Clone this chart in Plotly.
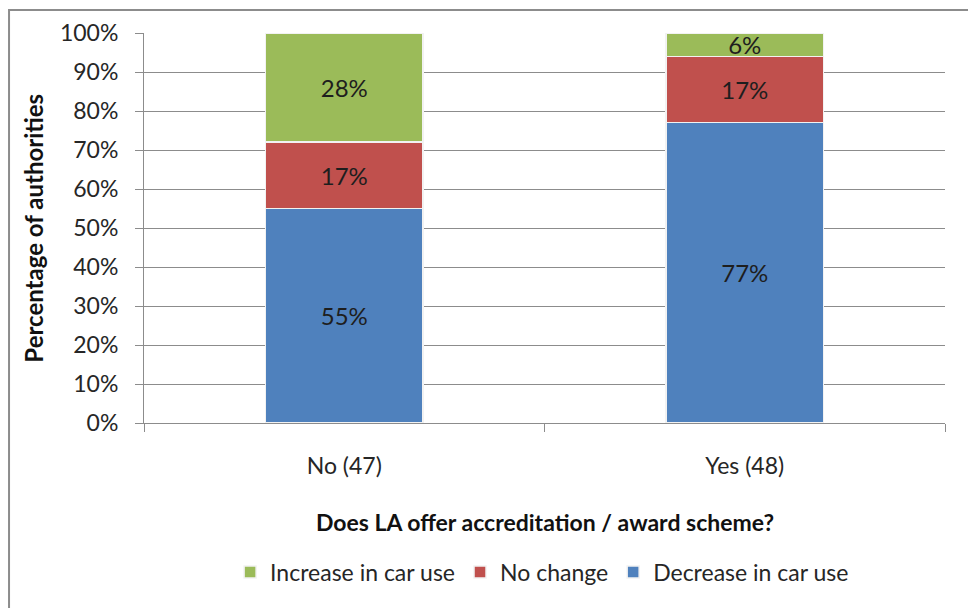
import plotly.graph_objects as go

# Survey responses by whether the local authority runs an accreditation / award scheme
categories = ["No (47)", "Yes (48)"]
decrease = [55, 77]
no_change = [17, 17]
increase = [28, 6]
y_ticks = [0, 10, 20, 30, 40, 50, 60, 70, 80, 90, 100]
y_tick_labels = [f"{v}%" for v in y_ticks]

FONT = "Lato"
TXT = "#262626"

series = [
    ("Decrease in car use", decrease, "#4F81BD"),
    ("No change", no_change, "#C0504D"),
    ("Increase in car use", increase, "#9BBB59"),
]

fig = go.Figure()
for name, vals, color in series:
    fig.add_trace(go.Bar(
        x=categories, y=vals, name=name,
        marker=dict(color=color, line=dict(color="#f2f2f2", width=1.5)),
        text=[f"{v}%" for v in vals],
        textposition="inside", insidetextanchor="middle",
        constraintext="none",
        textfont=dict(family=FONT, size=24, color="#1e1e1e"),
        hoverinfo="skip",
    ))

fig.update_layout(
    width=968, height=608,
    barmode="stack", bargap=0.607,
    paper_bgcolor="white", plot_bgcolor="white",
    margin=dict(l=144, r=23, t=33, b=185),
    font=dict(family=FONT, size=23, color=TXT),
    showlegend=True,
    legend=dict(
        orientation="h", traceorder="reversed",
        x=0.497, xanchor="center", y=-0.382, yanchor="middle",
        font=dict(family=FONT, size=23, color=TXT),
        itemwidth=30,
    ),
    uniformtext=dict(minsize=24, mode="show"),
)

fig.update_yaxes(
    range=[0, 100], tickvals=y_ticks, ticktext=y_tick_labels,
    showgrid=True, gridcolor="#8c8c8c", gridwidth=1,
    showline=True, linecolor="#8c8c8c", linewidth=1,
    ticks="outside", ticklen=8, tickcolor="#8c8c8c",
    ticklabelstandoff=12,
    tickfont=dict(family=FONT, size=23, color=TXT),
    zeroline=False,
)
fig.update_xaxes(
    showline=True, linecolor="#8c8c8c", linewidth=1,
    ticks="outside", ticklen=8, tickcolor="#8c8c8c",
    tickson="boundaries", ticklabelstandoff=22,
    tickfont=dict(family=FONT, size=23, color=TXT),
)

# Axis titles
fig.add_annotation(
    text="<b>Percentage of authorities</b>", textangle=-90,
    xref="paper", yref="paper", x=-0.139, xanchor="center", y=0.5,
    showarrow=False, font=dict(family=FONT, size=24, color="#111111"),
)
fig.add_annotation(
    text="<b>Does LA offer accreditation / award scheme?</b>",
    xref="paper", yref="paper", x=0.5, y=-0.254, yanchor="middle",
    showarrow=False, font=dict(family=FONT, size=23, color="#111111"),
)

# Chart-area frame
fig.add_shape(
    type="rect", xref="paper", yref="paper",
    x0=-0.1685, x1=1.2, y0=-1.0, y1=1.059,
    line=dict(color="#8c8c8c", width=2), layer="below",
)

fig.write_html("out.html")
